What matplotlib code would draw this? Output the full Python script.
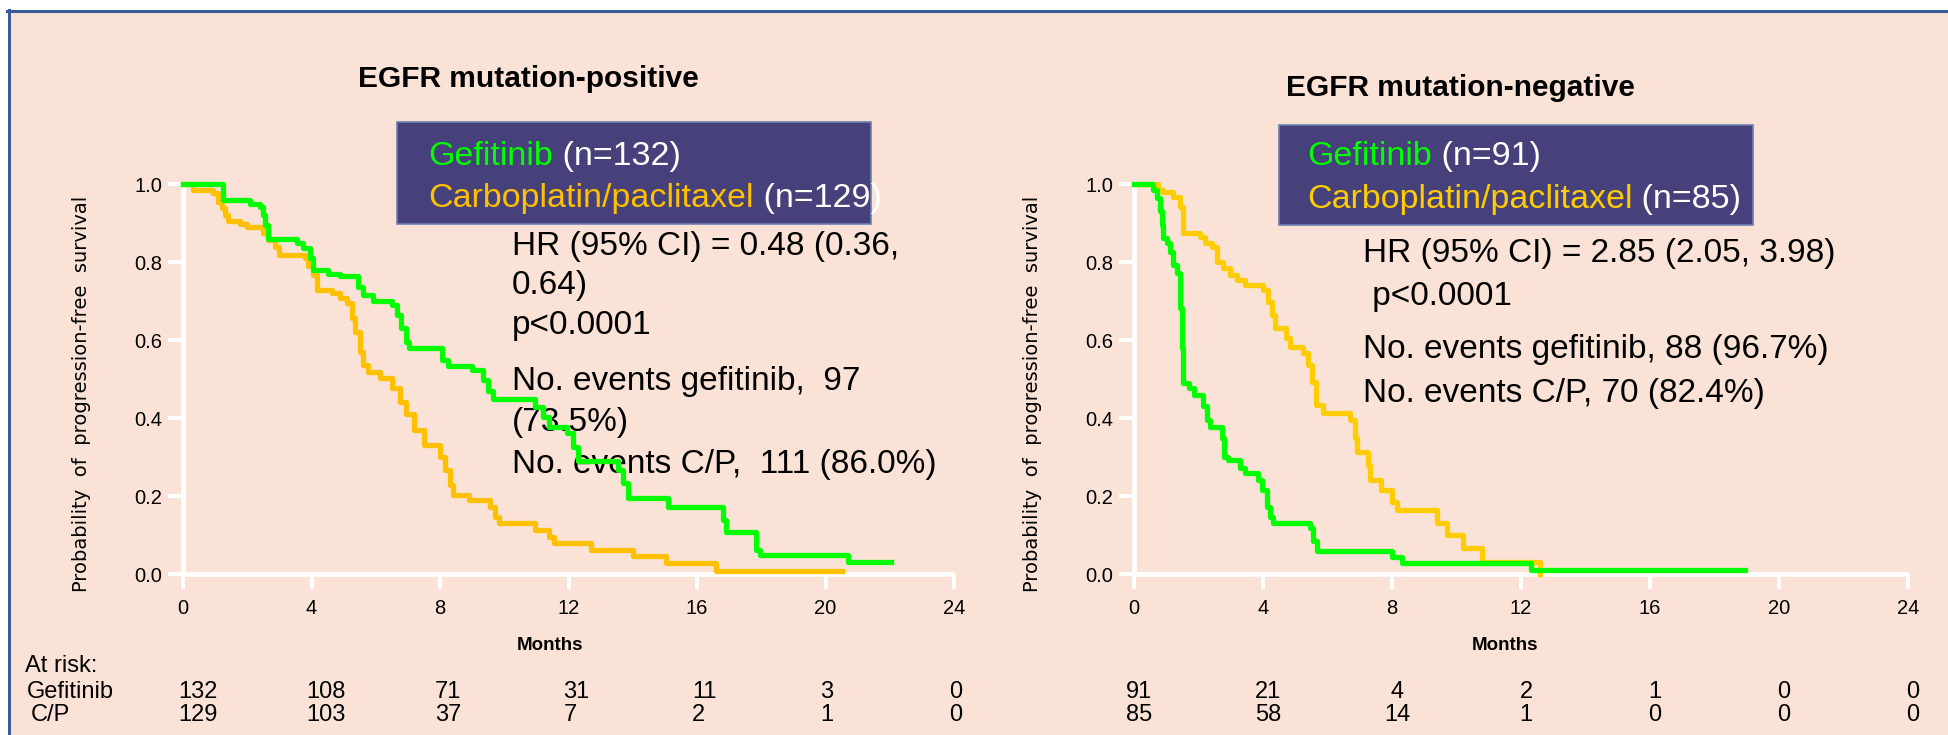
import matplotlib
matplotlib.use("Agg")
import matplotlib.pyplot as plt
from matplotlib.patches import Rectangle
from matplotlib.lines import Line2D

# ---------------- data ----------------
month_ticks = [0, 4, 8, 12, 16, 20, 24]
prob_ticks = [0.0, 0.2, 0.4, 0.6, 0.8, 1.0]
prob_labels = ["0.0", "0.2", "0.4", "0.6", "0.8", "1.0"]

pos_gef_t = [0, 1.25, 2.1, 2.4, 2.5, 2.55, 2.65, 3.55, 3.75, 3.95, 4.05, 4.5, 4.9, 5.45, 5.6, 5.9,
             6.5, 6.65, 6.8, 6.95, 7.05, 8.05, 8.25, 9.0, 9.35, 9.5, 9.65, 10.95, 11.2, 11.4, 11.95,
             12.15, 12.3, 13.55, 13.7, 13.85, 15.1, 16.8, 16.9, 17.85, 17.95, 20.7, 22.05]
pos_gef_s = [1.0, 0.96, 0.95, 0.94, 0.92, 0.895, 0.86, 0.85, 0.835, 0.81, 0.78, 0.77, 0.765, 0.735, 0.715, 0.70,
             0.69, 0.665, 0.63, 0.595, 0.58, 0.55, 0.533, 0.523, 0.497, 0.47, 0.45, 0.428, 0.403, 0.377, 0.362,
             0.326, 0.29, 0.267, 0.233, 0.195, 0.172, 0.138, 0.108, 0.062, 0.049, 0.03, 0.03]

pos_cp_t = [0, 0.3, 0.93, 1.1, 1.2, 1.3, 1.4, 1.78, 2.0, 2.5, 2.65, 2.85, 2.98, 3.8, 3.9, 4.05, 4.17,
            4.64, 4.9, 5.1, 5.26, 5.35, 5.5, 5.6, 5.76, 6.13, 6.5, 6.75, 6.95, 7.2, 7.5, 8.0, 8.15,
            8.3, 8.4, 8.9, 9.57, 9.7, 9.85, 10.95, 11.4, 11.55, 12.7, 14.0, 15.05, 16.6, 20.5]
pos_cp_s = [1.0, 0.985, 0.977, 0.954, 0.938, 0.92, 0.905, 0.897, 0.89, 0.874, 0.857, 0.838, 0.818, 0.81, 0.79,
            0.767, 0.728, 0.72, 0.708, 0.695, 0.656, 0.62, 0.569, 0.536, 0.518, 0.502, 0.477, 0.44, 0.41,
            0.37, 0.33, 0.30, 0.267, 0.228, 0.203, 0.19, 0.172, 0.146, 0.131, 0.113, 0.095, 0.08, 0.062,
            0.046, 0.028, 0.008, 0.008]

neg_gef_t = [0, 0.6, 0.7, 0.8, 0.87, 0.9, 1.03, 1.12, 1.2, 1.33, 1.43, 1.5, 1.53, 1.7, 1.85, 2.15, 2.25,
             2.35, 2.73, 2.78, 2.9, 3.3, 3.45, 3.85, 3.98, 4.13, 4.22, 4.3, 5.45, 5.55, 5.68, 8.0, 8.3,
             12.3, 18.95]
neg_gef_s = [1.0, 0.985, 0.965, 0.93, 0.895, 0.862, 0.85, 0.826, 0.793, 0.772, 0.682, 0.58, 0.49, 0.477,
             0.46, 0.43, 0.395, 0.377, 0.35, 0.30, 0.292, 0.272, 0.259, 0.24, 0.215, 0.172, 0.145, 0.131,
             0.118, 0.085, 0.059, 0.044, 0.028, 0.01, 0.01]

neg_cp_t = [0, 0.75, 0.9, 1.2, 1.43, 1.53, 2.05, 2.2, 2.42, 2.57, 2.77, 2.98, 3.2, 3.45, 4.0, 4.15, 4.28,
            4.37, 4.7, 4.85, 5.25, 5.4, 5.53, 5.63, 5.85, 6.7, 6.85, 6.92, 7.25, 7.33, 7.65, 8.0, 8.15,
            9.4, 9.7, 10.2, 10.8, 12.6]
neg_cp_s = [1.0, 0.985, 0.98, 0.967, 0.94, 0.874, 0.864, 0.85, 0.838, 0.80, 0.785, 0.767, 0.754, 0.741,
            0.728, 0.698, 0.665, 0.631, 0.605, 0.582, 0.567, 0.536, 0.492, 0.433, 0.413, 0.395, 0.35,
            0.313, 0.28, 0.241, 0.215, 0.185, 0.164, 0.131, 0.10, 0.067, 0.031, 0.0]

pos_risk_gef = ["132", "108", "71", "31", "11", "3", "0"]
pos_risk_cp = ["129", "103", "37", "7", "2", "1", "0"]
neg_risk_gef = ["91", "21", "4", "2", "1", "0", "0"]
neg_risk_cp = ["85", "58", "14", "1", "0", "0", "0"]

# ---------------- style ----------------
W, H = 1948, 735
PEACH = "#FAE3D6"
GREEN = "#00FF00"
ORANGE_L = "#FFC000"
ORANGE_R = "#FFCC00"
BOX = "#46417A"
BORDER = "#3A5B98"

plt.rcParams["font.family"] = ["Liberation Sans", "DejaVu Sans"]

fig = plt.figure(figsize=(W / 100, H / 100), dpi=100, facecolor=PEACH)


def fx(x):
    return x / W


def fy(y):
    return 1 - y / H


# white margins and blue frame
fig.add_artist(Rectangle((0, fy(10.5)), 1, 1 - fy(10.5), transform=fig.transFigure,
                         facecolor="white", edgecolor="none", zorder=-5))
fig.add_artist(Rectangle((0, 0), fx(8.7), 1, transform=fig.transFigure,
                         facecolor="white", edgecolor="none", zorder=-5))
fig.add_artist(Line2D([fx(7.3), 1], [fy(10.5), fy(10.5)], transform=fig.transFigure,
                      color=BORDER, lw=2.2, zorder=-4))
fig.add_artist(Line2D([fx(8.7), fx(8.7)], [0, fy(9.5)], transform=fig.transFigure,
                      color=BORDER, lw=2.2, zorder=-4))


def make_axes(x0, x24, gef_t, gef_s, cp_t, cp_s, orange):
    ax = fig.add_axes([fx(x0), fy(574), (x24 - x0) / W, (574 - 184) / H])
    ax.patch.set_alpha(0)
    ax.set_xlim(0, 24)
    ax.set_ylim(0, 1)
    ax.set_xticks(month_ticks)
    ax.set_xticklabels([str(m) for m in month_ticks])
    ax.set_yticks(prob_ticks)
    ax.set_yticklabels(prob_labels)
    for side in ("top", "right"):
        ax.spines[side].set_visible(False)
    for side in ("left", "bottom"):
        ax.spines[side].set_color("white")
        ax.spines[side].set_linewidth(3.4)
        ax.spines[side].set_capstyle("butt")
    ax.tick_params(axis="both", color="white", labelcolor="black", width=2.9,
                   length=11, labelsize=14.5)
    ax.tick_params(axis="x", pad=7)
    ax.tick_params(axis="y", pad=4)
    ax.step(cp_t, cp_s, where="post", color=orange, lw=3.8, clip_on=False, zorder=4)
    ax.step(gef_t, gef_s, where="post", color=GREEN, lw=3.8, clip_on=False, zorder=5)
    return ax


axL = make_axes(183, 954, pos_gef_t, pos_gef_s, pos_cp_t, pos_cp_s, ORANGE_L)
axR = make_axes(1134, 1908, neg_gef_t, neg_gef_s, neg_cp_t, neg_cp_s, ORANGE_R)

# y labels
for xlab in (82, 1033):
    fig.text(fx(xlab), fy(394), "Probability  of  progression-free  survival", rotation=90,
             ha="center", va="center", fontsize=14, family="DejaVu Sans")

# titles
fig.text(fx(528), fy(79), "EGFR mutation-positive", ha="center", va="center",
         fontsize=21.5, weight="bold")
fig.text(fx(1460), fy(88), "EGFR mutation-negative", ha="center", va="center",
         fontsize=21.5, weight="bold")

# Months
fig.text(fx(550), fy(646), "Months", ha="center", va="center", fontsize=13.5, weight="bold")
fig.text(fx(1505), fy(646), "Months", ha="center", va="center", fontsize=13.5, weight="bold")


def legend_box(ax, x0, x1, y0, y1, tx, base1, base2, n1, n2, orange):
    ax.add_patch(Rectangle((fx(x0), fy(y1)), (x1 - x0) / W, (y1 - y0) / H,
                           transform=fig.transFigure, facecolor=BOX, edgecolor="#6C80B4",
                           lw=1.2, clip_on=False, zorder=6))
    t1 = ax.text(fx(tx), fy(base1), "Gefitinib", transform=fig.transFigure, color=GREEN,
                 fontsize=24.5, va="baseline", ha="left", zorder=7, clip_on=False)
    ax.annotate(" (n=%s)" % n1, xy=(1, 0), xycoords=t1, va="bottom", ha="left",
                color="white", fontsize=24.5, zorder=7, annotation_clip=False)
    t2 = ax.text(fx(tx), fy(base2), "Carboplatin/paclitaxel", transform=fig.transFigure,
                 color=orange, fontsize=24.5, va="baseline", ha="left", zorder=7, clip_on=False)
    ax.annotate(" (n=%s)" % n2, xy=(1, 0), xycoords=t2, va="bottom", ha="left",
                color="white", fontsize=24.5, zorder=7, annotation_clip=False)


legend_box(axL, 397, 871, 122, 224, 428, 165, 207, "132", "129", ORANGE_L)
legend_box(axR, 1279, 1753, 125, 225, 1307, 165, 208, "91", "85", ORANGE_R)

# annotations (curves drawn on top)
left_lines = [("HR (95% CI) = 0.48 (0.36,", 255), ("0.64)", 294), ("p<0.0001", 334),
              ("No. events gefitinib,  97", 390), ("(73.5%)", 431), ("No. events C/P,  111 (86.0%)", 473)]
for s, yb in left_lines:
    axL.text(fx(512), fy(yb), s, transform=fig.transFigure, fontsize=24, va="baseline",
             ha="left", zorder=3, clip_on=False)
right_lines = [("HR (95% CI) = 2.85 (2.05, 3.98)", 262), (" p<0.0001", 305),
               ("No. events gefitinib, 88 (96.7%)", 358), ("No. events C/P, 70 (82.4%)", 402)]
for s, yb in right_lines:
    axR.text(fx(1363), fy(yb), s, transform=fig.transFigure, fontsize=24, va="baseline",
             ha="left", zorder=3, clip_on=False)

# at-risk table
fig.text(fx(25), fy(666), "At risk:", ha="left", va="center", fontsize=17)
fig.text(fx(27), fy(692), "Gefitinib", ha="left", va="center", fontsize=17)
fig.text(fx(31), fy(715), "C/P", ha="left", va="center", fontsize=17)

for i, m in enumerate(month_ticks):
    xl = 183 + m * (954 - 183) / 24.0
    fig.text(fx(xl - 5), fy(692), pos_risk_gef[i], ha="left", va="center", fontsize=17)
    fig.text(fx(xl - 5), fy(715), pos_risk_cp[i], ha="left", va="center", fontsize=17)
    xr = 1134 + m * (1908 - 1134) / 24.0
    fig.text(fx(xr + 5), fy(692), neg_risk_gef[i], ha="center", va="center", fontsize=17)
    fig.text(fx(xr + 5), fy(715), neg_risk_cp[i], ha="center", va="center", fontsize=17)

fig.savefig("out.png", dpi=100, facecolor=fig.get_facecolor())
